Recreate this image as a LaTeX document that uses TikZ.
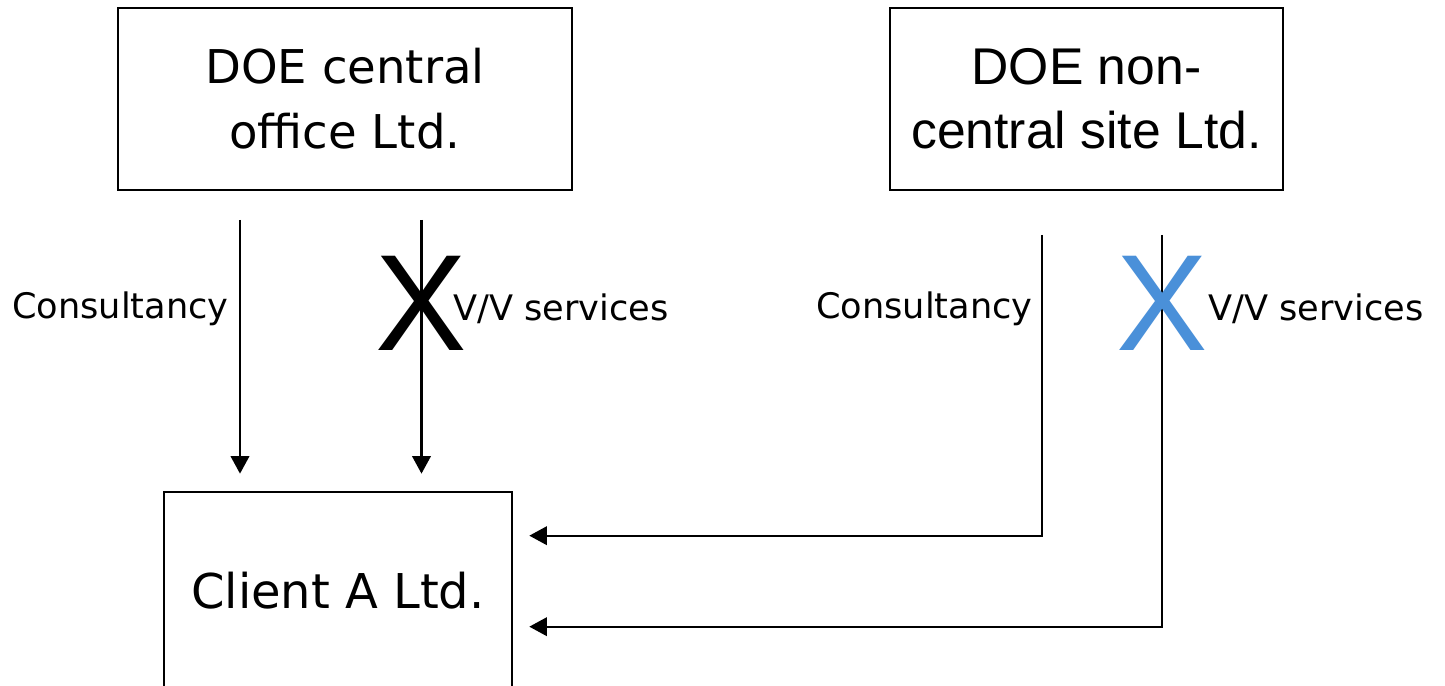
\documentclass[tikz,border=0pt]{standalone}
\usepackage{fontspec}
\setmainfont{DejaVu Sans}
\newfontfamily\arialf{Liberation Sans}
\usetikzlibrary{arrows.meta,calc}
\definecolor{xblue}{RGB}{74,144,217}
\tikzset{
  box/.style={draw=black, line width=1.5pt, inner sep=0pt, align=center},
  conn/.style={draw=black, line width=1.3pt},
  arr/.style={conn, -{Triangle[length=10pt,width=10.5pt]}},
  lbl/.style={inner sep=0pt, font=\fontsize{20}{24}\selectfont},
  xmark/.style={inner sep=0pt, anchor=base, font=\arialf\fontsize{78}{80}\selectfont}
}
\begin{document}
\begin{tikzpicture}[x=0.02cm, y=-0.02cm]
\useasboundingbox (0,0) rectangle (1445,686);
\clip (0,0) rectangle (1445,686);
\fill[white] (0,0) rectangle (1445,686);

\node[box, minimum width=454*0.02cm, minimum height=182*0.02cm,
      font=\fontsize{26.5}{37}\selectfont] (central) at (345,99) {DOE central\\office Ltd.};
\node[box, minimum width=393*0.02cm, minimum height=182*0.02cm,
      font=\arialf\fontsize{29.4}{36.3}\selectfont] (noncentral) at (1086.5,99) {DOE non-\\central site Ltd.};
\node[box, minimum width=348*0.02cm, minimum height=198*0.02cm,
      font=\fontsize{27.3}{32}\selectfont] (client) at (338,591) {Client A Ltd.};

\coordinate (s1) at (240,220);
\coordinate (s2) at (421.5,220);
\coordinate (s3) at (1042,235);
\coordinate (s4) at (1162,235);

\draw[arr, shorten >=17*0.02cm] (s1) -- (s1 |- client.north);
\draw[arr, shorten >=17*0.02cm] (s2) -- (s2 |- client.north);
\draw[arr, shorten >=16*0.02cm] (s3) |- ($(client.north east)+(0,45)$);
\draw[arr, shorten >=16*0.02cm] (s4) |- ($(client.north east)+(0,136)$);

\node[lbl, anchor=base east] (cons1) at (229,318) {Consultancy};
\node[lbl, anchor=base west] (vv1) at (453,320) {V/V services};
\node[lbl, anchor=base east] (cons2) at (1033,318) {Consultancy};
\node[lbl, anchor=base west] (vv2) at (1208,320) {V/V services};

\node[xmark, text=black] (x1) at (421.5,350) {X};
\node[xmark, text=xblue] (x2) at (1162,350) {X};
\end{tikzpicture}
\end{document}
